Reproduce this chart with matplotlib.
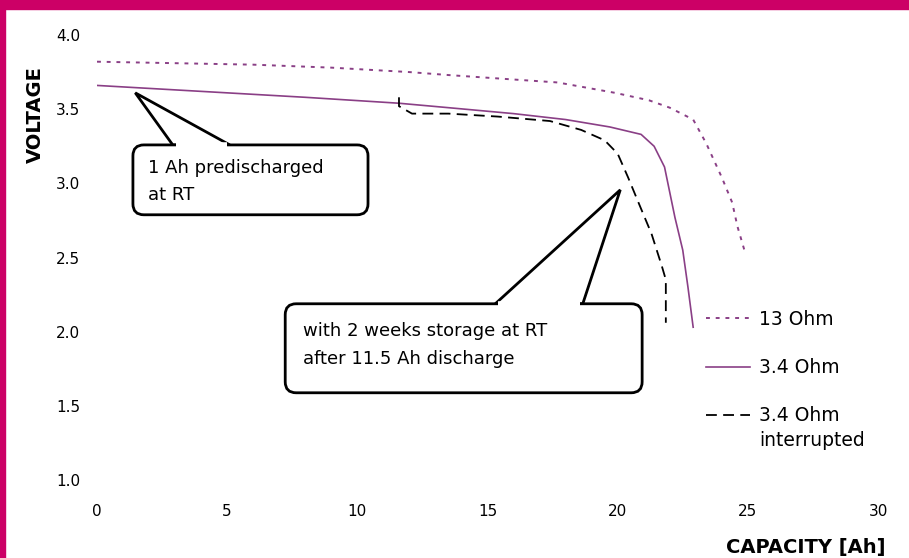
import matplotlib.pyplot as plt
from matplotlib.patches import FancyBboxPatch, Polygon

# 13 Ohm discharge
cap_13 = [0, 3, 6, 9, 12, 13.5, 16, 17.7, 19.9, 21.2, 22.0, 22.9, 23.4, 24.0, 24.4, 24.6, 24.9]
volt_13 = [3.82, 3.81, 3.80, 3.78, 3.75, 3.73, 3.70, 3.68, 3.61, 3.56, 3.51, 3.43, 3.27, 3.04, 2.87, 2.71, 2.53]

# 3.4 Ohm discharge
cap_34 = [0, 2, 5, 8, 11.6, 13.5, 16, 18, 19.7, 20.9, 21.4, 21.8, 22.2, 22.5, 22.7, 22.9]
volt_34 = [3.66, 3.64, 3.61, 3.58, 3.54, 3.51, 3.47, 3.43, 3.38, 3.33, 3.25, 3.11, 2.77, 2.55, 2.30, 2.03]

# 3.4 Ohm interrupted (after storage)
cap_int = [11.6, 11.6, 12.1, 13.5, 15.4, 17.4, 18.6, 19.5, 20.0, 20.4, 20.8, 21.3, 21.7, 21.85, 21.85]
volt_int = [3.58, 3.52, 3.47, 3.47, 3.45, 3.42, 3.36, 3.29, 3.20, 3.04, 2.87, 2.66, 2.44, 2.35, 2.06]

labels = ['13 Ohm', '3.4 Ohm', '3.4 Ohm']
label_extra = 'interrupted'
xticks = [0, 5, 10, 15, 20, 25, 30]
yticks = [1.0, 1.5, 2.0, 2.5, 3.0, 3.5, 4.0]

note1 = '1 Ah predischarged\nat RT'
note2 = 'with 2 weeks storage at RT\nafter 11.5 Ah discharge'

purple = '#8a3f86'
border = '#cc0066'

fig = plt.figure(figsize=(9.09, 5.58), dpi=100)
fig.patches.append(plt.Rectangle((0, 1 - 9 / 558), 1, 9 / 558, transform=fig.transFigure,
                                 color=border, zorder=0))
fig.patches.append(plt.Rectangle((0, 0), 5 / 909, 1, transform=fig.transFigure,
                                 color=border, zorder=0))

ax = fig.add_axes([97 / 909, 78 / 558, 781 / 909, 445 / 558])
l13, = ax.plot(cap_13, volt_13, color=purple, lw=1.4, linestyle=(0, (2, 3)))
l34, = ax.plot(cap_34, volt_34, color=purple, lw=1.2)
lint, = ax.plot(cap_int, volt_int, color='black', lw=1.3, linestyle=(0, (6, 3.5)))

ax.set_xlim(0, 30)
ax.set_ylim(1.0, 4.0)
ax.set_xticks(xticks)
ax.set_xticklabels([str(t) for t in xticks])
ax.set_yticks(yticks)
ax.set_yticklabels(['%.1f' % t for t in yticks])
ax.tick_params(length=0, labelsize=11, pad=12)
ax.tick_params(axis='x', pad=17)
for s in ax.spines.values():
    s.set_visible(False)

fig.text(35 / 909, 1 - 115 / 558, 'VOLTAGE', rotation=90, fontsize=14, fontweight='bold',
         ha='center', va='center')
fig.text(886 / 909, 1 - 547 / 558, 'CAPACITY [Ah]', fontsize=14, fontweight='bold',
         ha='right', va='center')

leg = ax.legend([l13, l34, lint], labels, loc='upper left', bbox_to_anchor=(706 / 909, 1 - 310 / 558),
                bbox_transform=fig.transFigure, frameon=False, fontsize=13.5, handlelength=2.35,
                handletextpad=0.5, labelspacing=1.55, borderpad=0, borderaxespad=0)
# second line of the last legend label, hung under its first line (drawn after the legend)
ax.annotate(label_extra, xy=(0, 0), xycoords=leg.get_texts()[2], xytext=(0, -4),
            textcoords='offset points', fontsize=13.5, ha='left', va='top',
            zorder=10, annotation_clip=False)

# callouts (axes fraction)
asp = 781 / 445
callouts = [
    ((0.046, 0.596), (0.301, 0.157), [(0.097, 0.753), (0.049, 0.870), (0.170, 0.753)], (0.065, 0.722), note1),
    ((0.241, 0.196), (0.457, 0.200), [(0.510, 0.396), (0.670, 0.652), (0.622, 0.396)], (0.264, 0.354), note2),
]
for (x0, y0), (w, h), tri, tpos, txt in callouts:
    ax.add_patch(Polygon(tri, closed=True, transform=ax.transAxes, facecolor='white',
                         edgecolor='black', lw=2, zorder=5, clip_on=False))
    ax.add_patch(FancyBboxPatch((x0, y0), w, h, boxstyle='round,pad=0,rounding_size=0.014',
                                mutation_aspect=asp, transform=ax.transAxes, facecolor='white',
                                edgecolor='black', lw=2, zorder=6, clip_on=False))
    ax.plot([tri[0][0] + 0.004, tri[2][0] - 0.004], [tri[0][1], tri[2][1]], color='white', lw=4,
            solid_capstyle='butt', transform=ax.transAxes, zorder=7, clip_on=False)
    ax.text(tpos[0], tpos[1], txt, transform=ax.transAxes, fontsize=13, va='top', ha='left',
            linespacing=1.68, zorder=8)

fig.savefig('out.png', dpi=100)
